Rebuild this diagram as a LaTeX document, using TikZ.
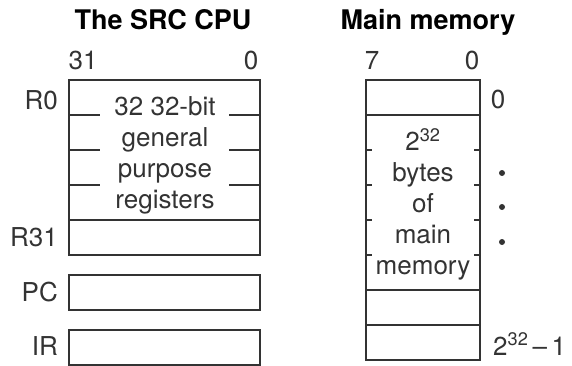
\documentclass[tikz,border=0pt]{standalone}
\usepackage{fontspec}
\setmainfont{TeX Gyre Heros}
\usepackage{xcolor}
\definecolor{regline}{rgb}{0.2, 0.2, 0.2}

\begin{document}
\begin{tikzpicture}[x=1pt,y=-1pt,
  box/.style={line width=1.5pt, color=regline},
  lbl/.style={font=\fontsize{26}{31}\selectfont, text=regline, inner sep=0pt},
  ttl/.style={font=\fontsize{27}{30}\selectfont\bfseries, inner sep=0pt}]
\useasboundingbox (0,0) rectangle (572,366);
% the SRC CPU
\node[ttl, anchor=base] (cputitle) at (163,30) {The SRC CPU};
\node[lbl, anchor=base] (cpumsb) at (83,70) {31};
\node[lbl, anchor=base] (cpulsb) at (251,70) {0};
\draw[box] (69,80) rectangle (260,255);
\draw[box] (69,220) -- (260,220);
\foreach \y in {115,150,185} {
  \draw[box] (69,\y) -- (100,\y);
  \draw[box] (229,\y) -- (260,\y);
}
\draw[box] (69,275) rectangle (260,310);
\draw[box] (69,330) rectangle (260,365);
\node[lbl, align=center] (gprs) at (165,155) {32 32-bit\\general\\purpose\\registers};
\node[lbl, anchor=base east] (r0) at (58,110) {R0};
\node[lbl, anchor=base east] (r31) at (58,246) {R31};
\node[lbl, anchor=base east] (pc) at (58,301) {PC};
\node[lbl, anchor=base east] (ir) at (58,355) {IR};
% main memory
\node[ttl, anchor=base] (memtitle) at (428,30) {Main memory};
\node[lbl, anchor=base] (memmsb) at (372,70) {7};
\node[lbl, anchor=base] (memlsb) at (472,70) {0};
\draw[box] (366,80) rectangle (480,360);
\foreach \y in {115,290,325} \draw[box] (366,\y) -- (480,\y);
\foreach \y in {150,185,220,255} {
  \draw[box] (366,\y) -- (372,\y);
  \draw[box] (474,\y) -- (480,\y);
}
\node[lbl, align=center] (membytes) at (423,204) {2\textsuperscript{32}\\bytes\\of\\main\\memory};
\node[lbl, anchor=base] (addrfirst) at (498,109) {0};
\foreach \y in {173,207,242} \fill[regline] (502,\y) circle (3pt);
\node[lbl, anchor=base west] (addrlast) at (493,355) {2\textsuperscript{32}\,–\,1};
\end{tikzpicture}
\end{document}
